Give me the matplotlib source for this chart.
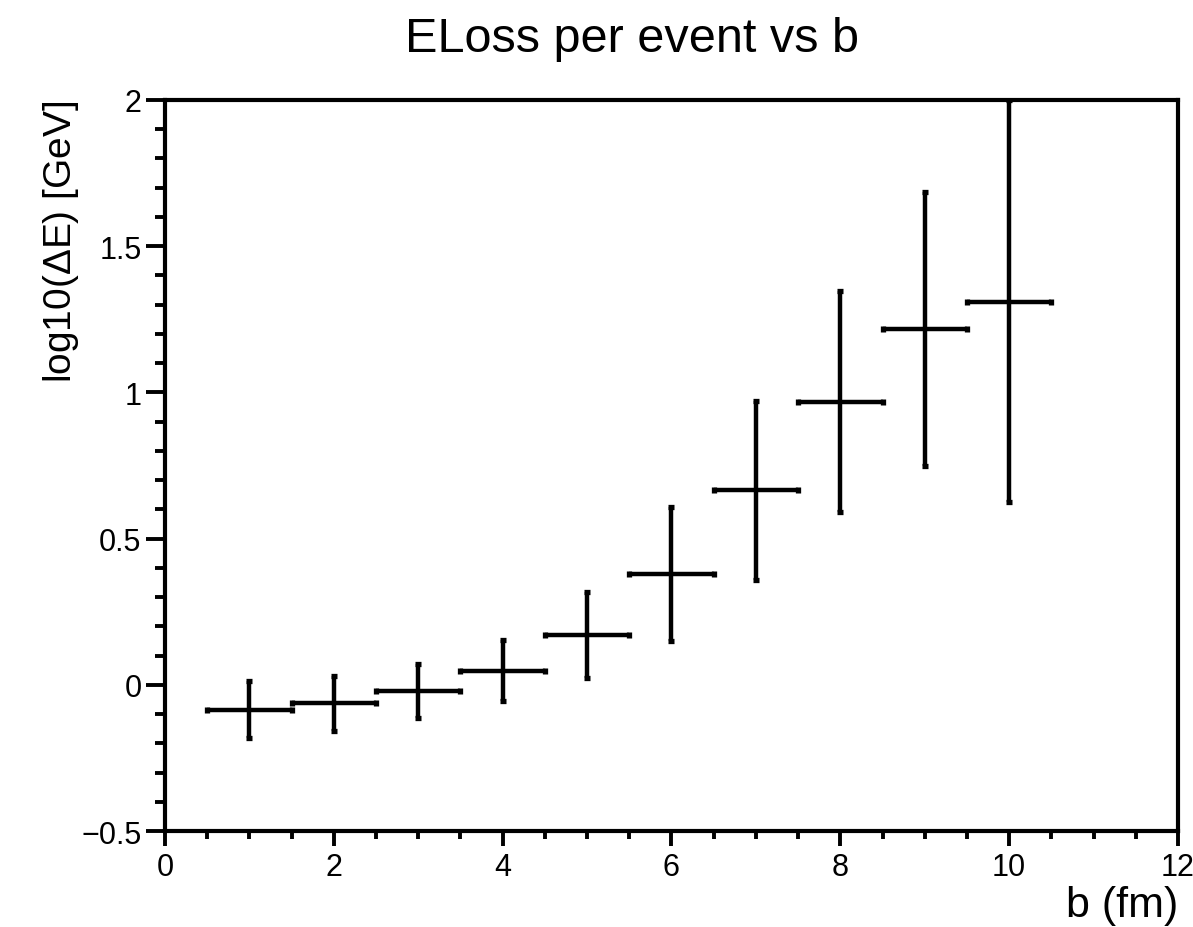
import matplotlib
matplotlib.use("Agg")
import matplotlib.pyplot as plt
from matplotlib.ticker import MultipleLocator

# impact parameter bins (fm) and energy loss per event
b_values = [1, 2, 3, 4, 5, 6, 7, 8, 9, 10]
b_halfwidth = [0.5] * 10
eloss = [-0.085, -0.063, -0.022, 0.048, 0.170, 0.379, 0.666, 0.968, 1.217, 1.310]
eloss_low = [-0.182, -0.157, -0.114, -0.054, 0.022, 0.151, 0.358, 0.592, 0.749, 0.625]
eloss_high = [0.014, 0.031, 0.071, 0.153, 0.318, 0.607, 0.972, 1.348, 1.684, 2.0]

TITLE = "ELoss per event vs b"
XLABEL = "b (fm)"
YLABEL = r"log10($\Delta$E) [GeV]"

plt.rcParams["font.family"] = ["Liberation Sans", "DejaVu Sans"]
plt.rcParams["mathtext.fontset"] = "custom"
plt.rcParams["mathtext.rm"] = "Liberation Sans"
plt.rcParams["mathtext.it"] = "Liberation Sans"

fig = plt.figure(figsize=(11.93, 9.28), dpi=100)
ax = fig.add_axes([0.1383, 0.1034, 0.8491, 0.7878])

err_lo = [y - lo for y, lo in zip(eloss, eloss_low)]
err_hi = [hi - y for y, hi in zip(eloss, eloss_high)]
ax.errorbar(
    b_values,
    eloss,
    xerr=b_halfwidth,
    yerr=[err_lo, err_hi],
    fmt="none",
    ecolor="black",
    elinewidth=3.2,
    capsize=2.4,
    capthick=3.8,
)

ax.set_xlim(0, 12)
ax.set_ylim(-0.5, 2)
ax.xaxis.set_major_locator(MultipleLocator(2))
ax.xaxis.set_minor_locator(MultipleLocator(0.5))
ax.yaxis.set_major_locator(MultipleLocator(0.5))
ax.yaxis.set_minor_locator(MultipleLocator(0.1))
ax.yaxis.set_major_formatter(plt.FuncFormatter(lambda v, _: f"{v:g}".replace("-", "\u2212")))

ax.tick_params(which="both", direction="out", top=False, right=False, width=2.8, labelsize=22)
ax.tick_params(axis="y", which="major", length=14, pad=3)
ax.tick_params(axis="y", which="minor", length=7)
ax.tick_params(axis="x", which="major", length=11, pad=4)
ax.tick_params(axis="x", which="minor", length=6)

for spine in ax.spines.values():
    spine.set_linewidth(3.0)

fig.text(0.530, 1 - 52 / 928, TITLE, fontsize=35, ha="center", va="baseline")
ax.set_xlabel(XLABEL, fontsize=31, loc="right", labelpad=2)
ax.set_ylabel(YLABEL, fontsize=28, loc="top", labelpad=0)

fig.savefig("out.png", dpi=100)
